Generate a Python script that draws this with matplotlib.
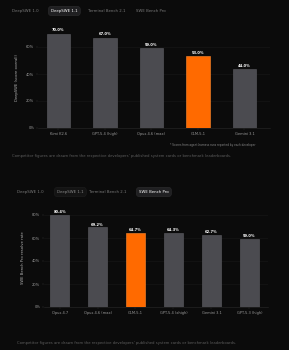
import matplotlib
matplotlib.use("Agg")
import matplotlib.pyplot as plt

# chart data
tabs = ["DeepSWE 1.0", "DeepSWE 1.1", "Terminal Bench 2.1", "SWE Bench Pro"]

top_models = ["Kimi K2.6", "GPT-5.4 (high)", "Opus 4.6 (max)", "GLM-5.1", "Gemini 3.1"]
top_scores = [70.0, 67.0, 59.0, 53.0, 44.0]
top_ticks = [0, 20, 40, 60]

pro_models = ["Opus 4.7", "Opus 4.6 (max)", "GLM-5.1", "GPT-5.4 (xhigh)", "Gemini 3.1", "GPT-5.3 (high)"]
pro_scores = [80.4, 69.2, 64.7, 64.3, 62.7, 59.0]
pro_ticks = [0, 20, 40, 60, 80]

footnote = ("Competitor figures are drawn from the respective developers' published "
            "system cards or benchmark leaderboards.")
small_note = "* Scores from agent-harness runs reported by each developer"

BG = "#0b0b0b"
GREY = "#4b4b50"
ORANGE = "#ff6a00"
W, H = 289, 350

fig = plt.figure(figsize=(W / 100, H / 100), dpi=100, facecolor=BG)


def px_rect(x0, y0, x1, y1):
    # pixel box (top-left origin) -> figure fraction
    return [x0 / W, 1 - y1 / H, (x1 - x0) / W, (y1 - y0) / H]


def draw_tabs(y, xs, selected):
    for i, (name, x) in enumerate(zip(tabs, xs)):
        if i == selected:
            fig.text(x / W, 1 - y / H, name, color="white", fontsize=2.8,
                     va="center", ha="left",
                     bbox=dict(boxstyle="round,pad=0.7,rounding_size=0.9",
                               fc="#202022", ec="#2c2c2e", lw=0.4))
        elif i == 1 and selected == 3:
            fig.text(x / W, 1 - y / H, name, color="#8a8a8a", fontsize=2.8,
                     va="center", ha="left",
                     bbox=dict(boxstyle="round,pad=0.7,rounding_size=0.9",
                               fc="#141414", ec="#1e1e1e", lw=0.4))
        else:
            fig.text(x / W, 1 - y / H, name, color="#7a7a7a", fontsize=2.8,
                     va="center", ha="left")


def draw_bars(ax, models, scores, ticks, orange_idx, ylabel, ymax, xlim):
    ax.set_facecolor(BG)
    pos = list(range(len(models)))
    colors = [ORANGE if i == orange_idx else GREY for i in pos]
    edges = ["#ff8a30" if i == orange_idx else "#5c5c62" for i in pos]
    ax.bar(pos, scores, width=0.5, color=colors, edgecolor=edges, linewidth=0.4, zorder=2)
    for p, s in zip(pos, scores):
        ax.text(p, s + 0.8, f"{s:.1f}%", ha="center", va="bottom",
                color="white", fontsize=2.6, fontweight="bold")
    ax.set_ylim(0, ymax)
    ax.set_xlim(*xlim)
    ax.set_yticks(ticks)
    ax.set_yticklabels([f"{t}%" for t in ticks])
    ax.set_xticks(pos)
    ax.set_xticklabels(models)
    ax.tick_params(axis="both", colors="#333333", labelcolor="#9a9a9a",
                   labelsize=2.6, length=1.2, width=0.3, pad=1.5)
    ax.grid(axis="y", color="#191919", linewidth=0.4, zorder=0)
    for side in ["top", "right", "left"]:
        ax.spines[side].set_visible(False)
    ax.spines["bottom"].set_color("#2a2a2a")
    ax.spines["bottom"].set_linewidth(0.4)
    ax.set_ylabel(ylabel, color="#b0b0b0", fontsize=2.7, labelpad=5)


# top panel: DeepSWE 1.1
draw_tabs(11, [12, 51, 88, 136], 1)
ax1 = fig.add_axes(px_rect(38, 28, 270, 128))
draw_bars(ax1, top_models, top_scores, top_ticks, 3,
          "DeepSWE (score overall)", 100 / 1.35, (-0.44, 4.55))
fig.text(256 / W, 1 - 145 / H, small_note, color="#8a8a8a", fontsize=2.0,
         ha="right", va="center")
fig.text(12 / W, 1 - 156 / H, footnote, color="#5e5e5e", fontsize=2.7,
         ha="left", va="center")

# bottom panel: SWE Bench Pro
draw_tabs(192, [17, 57, 89, 139], 3)
ax2 = fig.add_axes(px_rect(44, 208, 268, 307))
draw_bars(ax2, pro_models, pro_scores, pro_ticks, 2,
          "SWE Bench Pro resolve rate", 99 / 1.15, (-0.41, 5.49))
fig.text(17 / W, 1 - 343 / H, footnote, color="#5e5e5e", fontsize=2.7,
         ha="left", va="center")

plt.savefig("out.png", dpi=100, facecolor=BG)
plt.close()
